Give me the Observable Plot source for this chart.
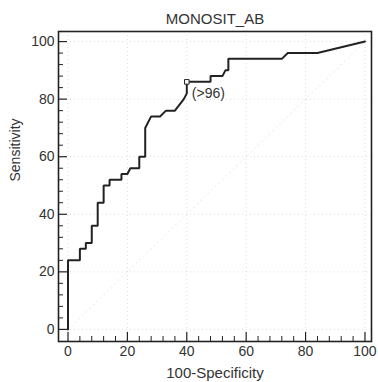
<!DOCTYPE html>
<html>
<head>
<meta charset="utf-8">
<script src="https://cdn.jsdelivr.net/npm/d3@7"></script>
<script src="https://cdn.jsdelivr.net/npm/@observablehq/plot@0.6"></script>
<style>
  html, body { margin: 0; padding: 0; background: #fff; }
  svg { font-family: "Liberation Sans", Arial, sans-serif; }
</style>
</head>
<body>
<div id="chart"></div>
<script>
const title = "MONOSIT_AB";
const xLabel = "100-Specificity";
const yLabel = "Sensitivity";

// ROC curve points (100-Specificity, Sensitivity)
const fpr = [0, 0, 4, 4, 6, 6, 8, 8, 10, 10, 12, 12, 14, 14, 18, 18, 20, 21, 24, 24, 26, 26, 28, 31, 33, 36, 39, 40, 40, 48, 48, 52, 53, 54, 54, 72, 74, 84, 100];
const tpr = [0, 24, 24, 28, 28, 30, 30, 36, 36, 44, 44, 50, 50, 52, 52, 54, 54, 56, 56, 60, 60, 70, 74, 74, 76, 76, 80, 82, 86, 86, 88, 88, 90, 90, 94, 94, 96, 96, 100];

// criterion point
const critX = [40];
const critY = [86];
const critLabel = ["(>96)"];

const majorTicks = [0, 20, 40, 60, 80, 100];
const gridTicks = [0, 20, 40, 60, 80, 100];
const minorTicks = [4, 8, 12, 16, 24, 28, 32, 36, 44, 48, 52, 56, 64, 68, 72, 76, 84, 88, 92, 96];
const diagonal = [0, 100];

const curve = fpr.map((x, i) => ({x, y: tpr[i]}));
const crit = critX.map((x, i) => ({x, y: critY[i], label: critLabel[i]}));

const W = 378, H = 382;
const mL = 58, mR = 7, mT = 31, mB = 41;
const fw = W - mL - mR, fh = H - mT - mB;
const ink = "#222";

const chart = Plot.plot({
  width: W,
  height: H,
  marginLeft: mL,
  marginRight: mR,
  marginTop: mT,
  marginBottom: mB,
  style: {fontFamily: "Liberation Sans, Arial, sans-serif", fontSize: "14px", color: ink, background: "#fff", overflow: "visible"},
  x: {domain: [-3.2, 102.2]},
  y: {domain: [-4.2, 103.5]},
  marks: [
    Plot.gridX(gridTicks, {stroke: "#bbb", strokeOpacity: 0.5, strokeDasharray: "1,3"}),
    Plot.gridY(gridTicks, {stroke: "#bbb", strokeOpacity: 0.5, strokeDasharray: "1,3"}),
    Plot.line(diagonal.map(d => ({x: d, y: d})), {x: "x", y: "y", stroke: "#ddd", strokeOpacity: 0.35, strokeDasharray: "1,4"}),
    // inward ticks
    Plot.tickX(majorTicks, {x: d => d, stroke: ink, strokeWidth: 1.2, insetTop: fh - 9}),
    Plot.tickX(minorTicks, {x: d => d, stroke: ink, strokeWidth: 1, insetTop: fh - 5}),
    Plot.tickY(majorTicks, {y: d => d, stroke: ink, strokeWidth: 1.2, insetRight: fw - 9}),
    Plot.tickY(minorTicks, {y: d => d, stroke: ink, strokeWidth: 1, insetRight: fw - 5}),
    Plot.axisX(majorTicks, {tickSize: 0, tickPadding: 5, label: null, fontSize: 14, fill: "#333"}),
    Plot.axisY(majorTicks, {tickSize: 0, tickPadding: 4, label: null, fontSize: 14, fill: "#333"}),
    Plot.frame({stroke: ink, strokeWidth: 1.6}),
    Plot.line(curve, {x: "x", y: "y", stroke: ink, strokeWidth: 2, strokeLinejoin: "miter"}),
    Plot.dot(crit, {x: "x", y: "y", symbol: "square", r: 2.6, fill: "#fff", stroke: ink, strokeWidth: 1}),
    Plot.text(crit, {x: "x", y: "y", text: "label", textAnchor: "start", dx: 5, dy: 12, fontSize: 14, fill: "#333"}),
    Plot.text([title], {frameAnchor: "top", lineAnchor: "middle", dy: -12, fontSize: 15, fill: "#333"}),
    Plot.text([xLabel], {frameAnchor: "bottom", lineAnchor: "middle", dy: 32, fontSize: 15, fill: "#333"}),
    Plot.text([yLabel], {frameAnchor: "left", rotate: -90, dx: -43, dy: -5, fontSize: 14, fill: "#333"})
  ]
});
document.getElementById("chart").appendChild(chart);
</script>
</body>
</html>
